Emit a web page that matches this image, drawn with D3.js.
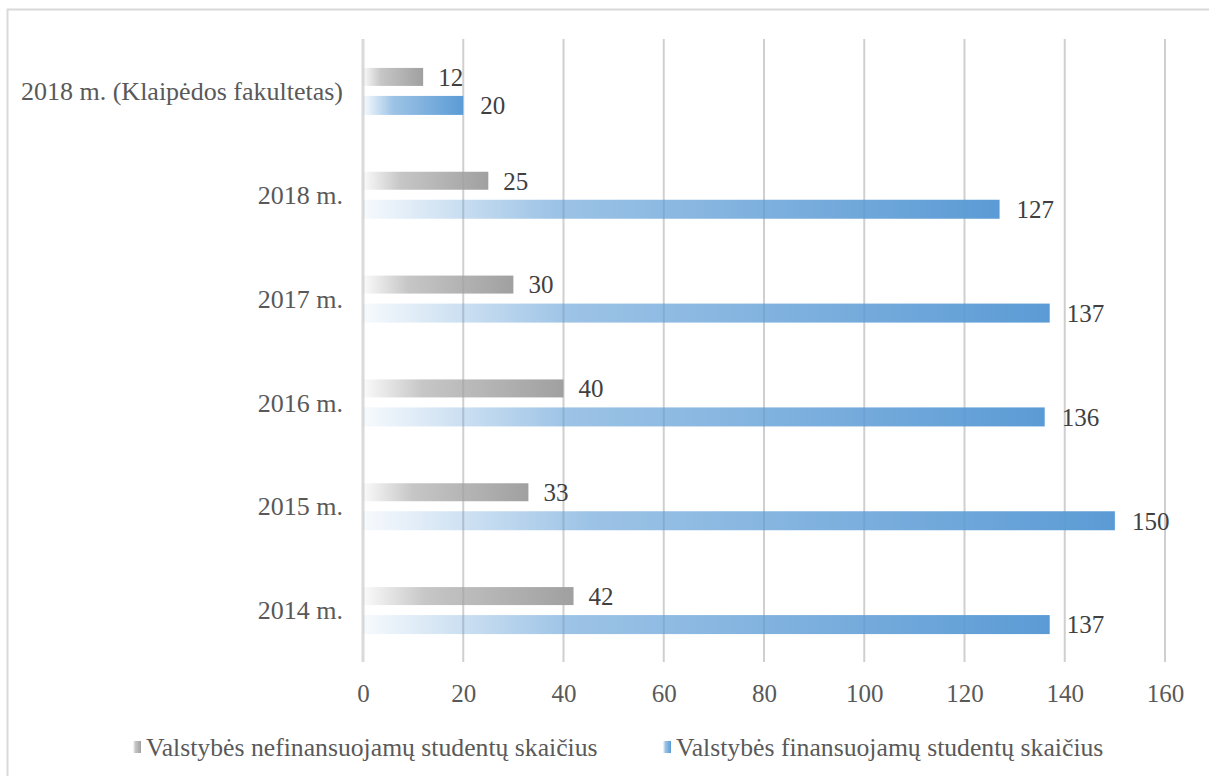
<!DOCTYPE html>
<html><head><meta charset="utf-8">
<script src="https://cdn.jsdelivr.net/npm/d3@7"></script>
<style>body{margin:0;background:#fff;} svg{display:block;}</style>
</head><body>
<svg id="chart" width="1209" height="776"></svg>
<script>
const categories = ["2018 m. (Klaipėdos fakultetas)", "2018 m.", "2017 m.", "2016 m.", "2015 m.", "2014 m."];
const nonFunded = [12, 25, 30, 40, 33, 42];
const funded = [20, 127, 137, 136, 150, 137];
const seriesNames = ["Valstybės nefinansuojamų studentų skaičius", "Valstybės finansuojamų studentų skaičius"];
const xTicks = [0, 20, 40, 60, 80, 100, 120, 140, 160];

const svg = d3.select("#chart");
const font = "Liberation Serif";
const textColor = "#595959";

// frame
svg.append("rect").attr("x", 7.5).attr("y", 9.5).attr("width", 1220).attr("height", 800)
  .attr("fill", "none").attr("stroke", "#d9d9d9").attr("stroke-width", 2);

const x = d3.scaleLinear().domain([0, 160]).range([363, 1165]);
const y = d3.scaleBand().domain(categories).range([39, 662]);

const defs = svg.append("defs");
function grad(id, color) {
  const g = defs.append("linearGradient").attr("id", id).attr("x1", "0%").attr("x2", "100%").attr("y1", "0%").attr("y2", "0%");
  g.append("stop").attr("offset", "0%").attr("stop-color", color).attr("stop-opacity", 0.05);
  g.append("stop").attr("offset", "30%").attr("stop-color", color).attr("stop-opacity", 0.6);
  g.append("stop").attr("offset", "100%").attr("stop-color", color).attr("stop-opacity", 1);
}
grad("gGray", "#a0a0a0");
grad("gBlue", "#5b9bd5");

// gridlines
svg.append("g").selectAll("line").data(xTicks.slice(1)).join("line")
  .attr("x1", d => x(d)).attr("x2", d => x(d)).attr("y1", 39).attr("y2", 662)
  .attr("stroke", "#cfcfcf").attr("stroke-width", 2);
// zero axis
svg.append("line").attr("x1", x(0)).attr("x2", x(0)).attr("y1", 39).attr("y2", 662)
  .attr("stroke", "#dadada").attr("stroke-width", 3);

// x tick labels
const xAxis = d3.axisBottom(x).tickValues(xTicks).tickSize(0).tickPadding(0);
const ax = svg.append("g").attr("transform", "translate(0,693)").call(xAxis);
ax.select(".domain").remove();
ax.selectAll("text").attr("font-family", font).attr("font-size", 25).attr("fill", textColor)
  .attr("dy", "0.35em").attr("y", 0);

// category labels
const yAxis = d3.axisLeft(y).tickSize(0).tickPadding(0);
const ay = svg.append("g").attr("transform", "translate(343,0)").call(yAxis);
ay.select(".domain").remove();
ay.selectAll("text").attr("font-family", font).attr("font-size", 26).attr("fill", textColor).attr("dy", "0.35em");

const barH = 18;
function c(d) { return y(d) + y.bandwidth() / 2; }

// gray bars
svg.append("g").selectAll("rect").data(categories).join("rect")
  .attr("x", x(0)).attr("y", d => c(d) - 23)
  .attr("width", (d, i) => x(nonFunded[i]) - x(0)).attr("height", barH)
  .attr("fill", "url(#gGray)");
// blue bars
svg.append("g").selectAll("rect").data(categories).join("rect")
  .attr("x", x(0)).attr("y", d => c(d) + 5)
  .attr("width", (d, i) => x(funded[i]) - x(0)).attr("height", barH + 1)
  .attr("fill", "url(#gBlue)");

// labels
svg.append("g").selectAll("text").data(categories).join("text")
  .attr("x", (d, i) => x(nonFunded[i]) + 15).attr("y", d => c(d) - 14)
  .attr("dy", "0.35em").attr("font-family", font).attr("font-size", 25).attr("fill", "#404040")
  .text((d, i) => nonFunded[i]);
svg.append("g").selectAll("text").data(categories).join("text")
  .attr("x", (d, i) => x(funded[i]) + 17).attr("y", d => c(d) + 14.5)
  .attr("dy", "0.35em").attr("font-family", font).attr("font-size", 25).attr("fill", "#404040")
  .text((d, i) => funded[i]);

// legend
const legend = [{name: seriesNames[0], fill: "url(#gGray)", x: 133}, {name: seriesNames[1], fill: "url(#gBlue)", x: 663}];
const lg = svg.append("g").selectAll("g").data(legend).join("g");
lg.append("rect").attr("x", d => d.x).attr("y", 741).attr("width", 8).attr("height", 12).attr("fill", d => d.fill);
lg.append("text").attr("x", d => d.x + 13).attr("y", 747).attr("dy", "0.35em")
  .attr("font-family", font).attr("font-size", 25.7).attr("fill", textColor).text(d => d.name);
</script>
</body></html>
